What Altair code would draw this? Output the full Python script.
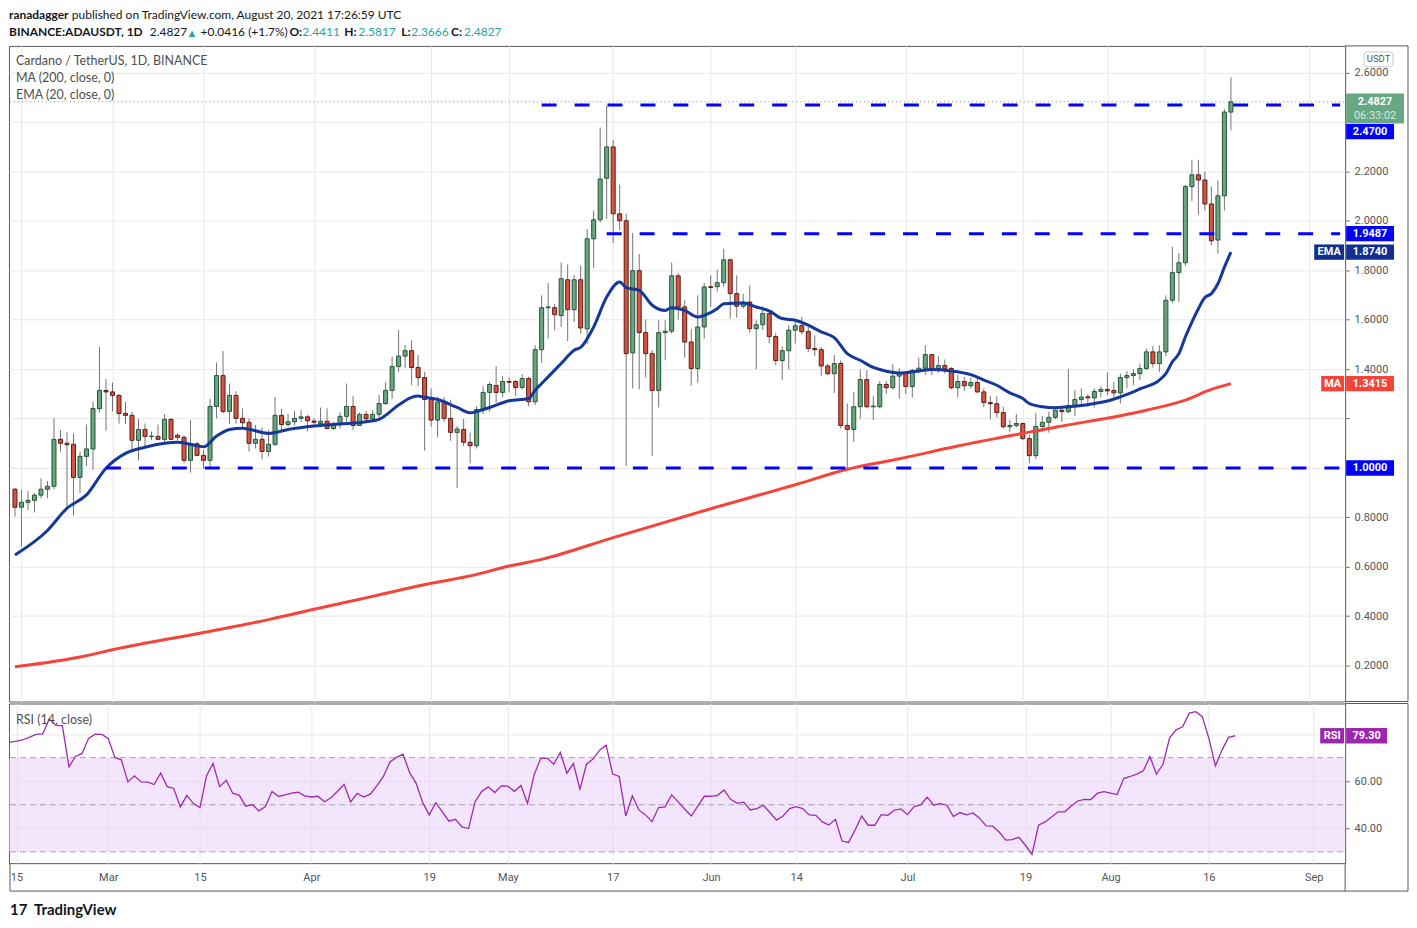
import json
import altair as alt
import pandas as pd

# ---------------- data ----------------
opens = [0.914,0.841,0.861,0.869,0.890,0.914,0.926,1.116,1.100,1.096,
         0.962,1.047,1.077,1.241,1.314,1.308,1.294,1.221,1.213,1.112,
         1.156,1.127,1.128,1.116,1.197,1.132,1.124,1.031,1.098,1.051,
         1.031,1.249,1.374,1.229,1.294,1.201,1.185,1.100,1.116,1.067,
         1.096,1.213,1.176,1.187,1.201,1.207,1.190,1.180,1.189,1.160,
         1.180,1.209,1.249,1.172,1.217,1.199,1.217,1.261,1.314,1.411,
         1.453,1.475,1.407,1.366,1.277,1.194,1.267,1.201,1.144,1.156,
         1.104,1.090,1.237,1.306,1.334,1.306,1.350,1.350,1.326,1.362,
         1.268,1.479,1.649,1.649,1.617,1.762,1.641,1.762,1.563,1.928,
         2.005,2.173,2.300,2.029,2.001,1.466,1.799,1.548,1.463,1.314,
         1.548,1.554,1.778,1.652,1.510,1.403,1.571,1.734,1.734,1.750,
         1.843,1.706,1.655,1.672,1.564,1.580,1.625,1.532,1.435,1.475,
         1.558,1.576,1.552,1.484,1.479,1.413,1.382,1.423,1.172,1.156,
         1.248,1.358,1.248,1.248,1.338,1.325,1.372,1.384,1.330,1.395,
         1.404,1.459,1.403,1.415,1.403,1.325,1.350,1.333,1.346,1.308,
         1.265,1.260,1.224,1.167,1.172,1.180,1.119,1.050,1.168,1.185,
         1.205,1.234,1.228,1.253,1.277,1.288,1.284,1.310,1.318,1.314,
         1.304,1.366,1.374,1.382,1.403,1.470,1.423,1.470,1.679,1.791,
         1.831,2.139,2.187,2.166,2.069,1.923,2.102,2.4411]
highs = [0.918,0.911,0.906,0.898,0.958,0.947,1.202,1.154,1.144,1.140,
         1.066,1.176,1.268,1.490,1.360,1.346,1.298,1.268,1.228,1.198,
         1.180,1.147,1.176,1.218,1.201,1.141,1.133,1.194,1.106,1.073,
         1.279,1.427,1.473,1.342,1.311,1.241,1.201,1.174,1.164,1.154,
         1.288,1.240,1.218,1.232,1.234,1.214,1.201,1.245,1.241,1.187,
         1.226,1.342,1.291,1.225,1.232,1.234,1.295,1.347,1.450,1.558,
         1.497,1.517,1.457,1.389,1.322,1.288,1.286,1.277,1.170,1.198,
         1.143,1.250,1.331,1.349,1.412,1.372,1.366,1.356,1.380,1.369,
         1.497,1.699,1.749,1.665,1.832,1.824,1.780,1.820,1.968,2.042,
         2.379,2.467,2.328,2.147,2.029,1.951,1.867,1.602,1.477,1.598,
         1.598,1.832,1.789,1.679,1.562,1.699,1.749,1.780,1.803,1.888,
         1.847,1.780,1.706,1.739,1.598,1.654,1.638,1.547,1.493,1.578,
         1.598,1.611,1.571,1.537,1.490,1.423,1.457,1.436,1.261,1.308,
         1.399,1.396,1.291,1.352,1.352,1.420,1.403,1.389,1.401,1.447,
         1.497,1.459,1.453,1.439,1.409,1.376,1.369,1.366,1.372,1.322,
         1.291,1.291,1.248,1.194,1.218,1.183,1.133,1.221,1.210,1.228,
         1.248,1.248,1.400,1.315,1.322,1.298,1.322,1.331,1.387,1.349,
         1.382,1.392,1.399,1.423,1.484,1.493,1.497,1.699,1.895,1.870,
         2.147,2.248,2.248,2.200,2.139,2.164,2.453,2.5817]
lows = [0.803,0.682,0.830,0.820,0.877,0.877,0.914,1.066,0.830,0.807,
        0.898,1.008,0.992,1.224,1.151,1.228,1.180,1.178,1.066,1.030,
        1.086,1.113,1.113,1.106,1.113,1.113,1.019,0.981,1.048,0.997,
        1.003,1.201,1.221,1.178,1.180,1.160,1.066,1.079,1.035,1.046,
        1.089,1.154,1.167,1.172,1.187,1.149,1.174,1.174,1.156,1.154,
        1.160,1.187,1.154,1.170,1.190,1.194,1.194,1.255,1.280,1.389,
        1.403,1.335,1.331,1.070,1.167,1.124,1.187,1.110,0.918,1.089,
        1.019,1.079,1.218,1.228,1.264,1.286,1.308,1.291,1.318,1.250,
        1.255,1.426,1.524,1.557,1.571,1.514,1.591,1.544,1.501,1.809,
        1.995,2.009,1.910,1.964,1.008,1.322,1.318,1.366,1.049,1.245,
        1.436,1.544,1.601,1.447,1.333,1.345,1.524,1.652,1.715,1.733,
        1.605,1.609,1.645,1.547,1.399,1.558,1.504,1.416,1.356,1.399,
        1.504,1.541,1.470,1.453,1.373,1.376,1.304,1.160,0.995,1.106,
        1.200,1.241,1.194,1.241,1.299,1.318,1.280,1.299,1.285,1.383,
        1.377,1.376,1.385,1.383,1.318,1.286,1.312,1.322,1.304,1.248,
        1.197,1.205,1.160,1.147,1.164,1.113,1.019,1.036,1.147,1.143,
        1.197,1.186,1.221,1.211,1.248,1.248,1.245,1.286,1.295,1.288,
        1.261,1.322,1.335,1.356,1.396,1.407,1.389,1.453,1.668,1.672,
        1.818,2.080,2.026,2.042,1.901,1.867,2.042,2.3666]
closes = [0.841,0.861,0.869,0.890,0.914,0.926,1.116,1.100,1.094,0.962,
          1.047,1.077,1.241,1.314,1.308,1.294,1.221,1.213,1.112,1.156,
          1.128,1.129,1.116,1.197,1.116,1.124,1.031,1.098,1.051,1.031,
          1.249,1.374,1.229,1.294,1.201,1.183,1.100,1.116,1.067,1.096,
          1.213,1.176,1.187,1.201,1.207,1.191,1.185,1.189,1.160,1.180,
          1.209,1.249,1.172,1.217,1.199,1.217,1.261,1.314,1.411,1.453,
          1.475,1.407,1.366,1.277,1.194,1.267,1.201,1.144,1.158,1.104,
          1.090,1.237,1.306,1.338,1.306,1.350,1.347,1.326,1.362,1.268,
          1.479,1.649,1.652,1.621,1.766,1.641,1.762,1.567,1.928,2.005,
          2.170,2.300,2.029,2.001,1.463,1.799,1.548,1.463,1.314,1.548,
          1.554,1.778,1.652,1.510,1.403,1.571,1.733,1.731,1.750,1.843,
          1.706,1.655,1.672,1.564,1.580,1.625,1.532,1.435,1.475,1.558,
          1.576,1.552,1.484,1.479,1.413,1.382,1.423,1.172,1.156,1.248,
          1.358,1.248,1.251,1.338,1.325,1.372,1.384,1.330,1.395,1.404,
          1.459,1.403,1.415,1.401,1.325,1.350,1.333,1.346,1.308,1.265,
          1.260,1.224,1.167,1.172,1.180,1.119,1.050,1.168,1.185,1.205,
          1.234,1.228,1.253,1.277,1.287,1.284,1.310,1.318,1.312,1.304,
          1.366,1.374,1.382,1.403,1.470,1.423,1.470,1.679,1.791,1.831,
          2.139,2.187,2.166,2.069,1.920,2.102,2.4411,2.4827]
rsi = [76.5,77.0,77.6,78.7,79.9,80.1,86.4,83.8,83.5,66.1,
       70.5,71.8,78.2,80.0,79.9,78.2,70.1,69.1,59.7,62.3,
       59.7,59.6,58.6,63.4,57.7,56.9,49.1,54.0,50.5,48.8,
       62.3,67.5,57.7,60.4,54.9,54.0,49.4,50.1,47.4,49.2,
       55.6,53.5,54.2,54.9,55.3,53.8,53.3,53.6,51.3,53.0,
       55.7,58.6,51.2,54.8,53.3,54.5,58.0,62.0,68.2,70.1,
       71.5,63.7,59.1,50.9,45.7,50.9,47.0,43.0,43.8,40.6,
       39.9,51.3,55.6,57.6,55.2,58.0,57.9,55.7,58.2,50.5,
       62.7,69.6,69.8,67.2,72.2,63.4,67.5,56.6,67.2,69.4,
       73.2,75.3,63.0,62.0,45.2,53.8,47.8,45.7,42.8,48.8,
       49.1,54.2,51.2,48.1,45.2,49.5,53.6,53.6,54.0,56.3,
       52.3,50.6,51.1,47.8,48.4,49.8,46.7,43.5,45.2,48.4,
       49.2,48.4,45.7,45.5,42.7,41.4,43.8,34.6,34.0,39.3,
       45.2,41.3,41.3,45.8,45.5,47.7,48.2,45.8,49.2,49.9,
       53.2,49.8,50.5,49.8,45.0,46.7,45.7,46.5,44.3,41.0,
       40.9,38.4,35.0,35.2,36.2,32.8,28.9,41.3,42.7,44.8,
       47.0,47.0,49.5,51.6,52.3,52.2,54.9,55.6,54.9,54.3,
       61.1,62.0,63.0,64.4,70.5,63.0,67.2,78.3,81.8,83.1,
       88.9,89.5,87.4,78.2,66.5,73.2,78.6,79.3]

ema_days = [0,5,8,11,14,17,20,23,25,27,29,31,33,35,39,42,46,50,54,56,
            59,61,62,63,65,68,70,72,73,76,79,80,81,82,84,86,87,89,91,93,
            94,96,98,100,101,103,105,106,108,109,112,114,116,118,120,122,124,126,128,130,
            132,134,136,139,141,144,147,149,151,153,155,156,158,160,162,164,166,168,170,172,
            173,176,177,178,179,180,181,182,183,184,185,186,187]
ema_vals = [0.648,0.747,0.837,0.891,0.999,1.059,1.084,1.100,1.104,1.096,1.086,1.129,1.156,1.161,1.140,1.156,1.170,1.178,1.187,1.197,
            1.255,1.286,1.291,1.286,1.277,1.245,1.224,1.237,1.245,1.272,1.281,1.315,1.342,1.369,1.423,1.477,1.488,1.571,1.692,1.753,
            1.730,1.719,1.659,1.638,1.649,1.638,1.611,1.618,1.645,1.665,1.668,1.652,1.636,1.605,1.598,1.578,1.551,1.528,1.463,1.436,
            1.407,1.392,1.385,1.393,1.399,1.393,1.378,1.356,1.335,1.304,1.281,1.261,1.248,1.244,1.248,1.253,1.261,1.271,1.288,1.308,
            1.320,1.356,1.382,1.430,1.463,1.531,1.591,1.645,1.690,1.706,1.746,1.813,1.874]
ma_days = [0,11,15,29,39,46,55,64,70,76,81,92,107,120,128,136,145,160,174,180,184,187]
ma_vals = [0.195,0.240,0.264,0.334,0.386,0.428,0.480,0.533,0.563,0.603,0.630,0.718,0.835,0.932,0.995,1.037,1.089,1.165,1.234,1.275,1.318,1.3415]

level_vals = [2.47, 1.9487, 1.0]
level_start = [81, 91, 14]

tick_days = [1, 15, 29, 46, 64, 76, 92, 107, 120, 137, 155, 168, 183, 199]
tick_labels = ["15", "Mar", "15", "Apr", "19", "May", "17", "Jun", "14", "Jul", "19", "Aug", "16", "Sep"]
price_ticks = [0.2, 0.4, 0.6, 0.8, 1.0, 1.2, 1.4, 1.6, 1.8, 2.0, 2.2, 2.4, 2.6]
rsi_ticks = [40, 60, 80]
rsi_levels = [30, 50, 70]

# ---------------- layout / style ----------------
W, HP, HR, HH = 1339, 657, 160, 35
EXT = 63
XD = [-0.15, 203.8]
PD = [0.0545, 2.709]
RD = [25.2, 93.0]
PPU = HP / (PD[1] - PD[0])
RPU = HR / (RD[1] - RD[0])

GREEN_FILL, GREEN_LINE = "#6aa682", "#225437"
RED_FILL, RED_LINE = "#d65442", "#5b1a13"
WICK = "#737375"
EMA_C = "#15389a"
MA_C = "#f5453a"
BLUE = "#0000ff"
NAVY = "#112f8f"
PURPLE = "#9b27af"
TEAL = "#26a69a"
FRAME = "#5a5a5a"
TXT = "#131722"
GREY = "#4f4f4f"

one = pd.DataFrame({"k": [0]})


def txt(x, y, s, color=TXT, size=12, weight="normal", font="Lato", align="left", baseline="top"):
    return alt.Chart(one).mark_text(text=s, align=align, baseline=baseline, color=color,
                                    fontSize=size, fontWeight=weight, font=font).encode(
        x=alt.value(x), y=alt.value(y))


def hline(y, x0, x1, color=FRAME):
    return alt.Chart(one).mark_rule(color=color, strokeWidth=1).encode(
        x=alt.value(x0), x2=alt.value(x1), y=alt.value(y))


def vline(x, y0, y1, color=FRAME):
    return alt.Chart(one).mark_rule(color=color, strokeWidth=1).encode(
        x=alt.value(x), y=alt.value(y0), y2=alt.value(y1))


def tag(value, ppu, x0, x1, fill, label, dy=0.0, up=7.7, down=7.7):
    c = value - dy / ppu
    rect = alt.Chart(one).mark_rect(color=fill).encode(
        x=alt.value(x0), x2=alt.value(x1),
        y=alt.datum(c + up / ppu), y2=alt.datum(c - down / ppu))
    t = alt.Chart(one).mark_text(text=label, align="center", baseline="middle", color="white",
                                 fontSize=11, fontWeight="bold", font="Roboto").encode(
        x=alt.value((x0 + x1) / 2), y=alt.datum(c))
    return [rect, t]


n = len(closes)
candles = pd.DataFrame({"d": list(range(n)), "open": opens, "high": highs, "low": lows, "close": closes})
candles["dir"] = ["up" if c >= o else "down" for o, c in zip(opens, closes)]
ema_df = pd.DataFrame({"d": ema_days, "v": ema_vals})
ma_df = pd.DataFrame({"d": ma_days, "v": ma_vals})
lvl_df = pd.DataFrame({"level": level_vals, "start": level_start, "end": [XD[1]] * len(level_vals)})
rsi_df = pd.DataFrame({"d": list(range(n)), "r": rsi})
rlev_df = pd.DataFrame({"lv": rsi_levels})
last_df = pd.DataFrame({"p": [closes[-1]]})

xs = alt.Scale(domain=XD, nice=False, zero=False)
ys = alt.Scale(domain=PD, nice=False, zero=False)
rs = alt.Scale(domain=RD, nice=False, zero=False)

price_label_expr = "indexof([1, 1.2, 2.4], datum.value) >= 0 ? '' : format(datum.value, '.4f')"
x_label_expr = f"{json.dumps(tick_labels)}[indexof({json.dumps(tick_days)}, datum.value)]"

# ---------------- header ----------------
L1, L2 = 0, 17.5
header = alt.layer(
    txt(0, L1, "ranadagger", weight="bold"),
    txt(63, L1, "published on TradingView.com, August 20, 2021 17:26:59 UTC"),
    txt(0, L2, "BINANCE:ADAUSDT, 1D", weight="bold"),
    txt(141, L2, "2.4827"),
    txt(178, L2 + 1, "▲", color=TEAL, size=11),
    txt(192, L2, "+0.0416 (+1.7%)"),
    txt(281, L2, "O:", weight="bold"), txt(294, L2, "2.4411", color=TEAL),
    txt(336, L2, "H:", weight="bold"), txt(350, L2, "2.5817", color=TEAL),
    txt(393, L2, "L:", weight="bold"), txt(403, L2, "2.3666", color=TEAL),
    txt(443, L2, "C:", weight="bold"), txt(456, L2, "2.4827", color=TEAL),
).properties(width=W, height=HH, view=alt.ViewBackground(stroke="transparent", strokeWidth=0))

# ---------------- price pane ----------------
wicks = alt.Chart(candles).mark_rule(color=WICK, strokeWidth=1, clip=True).encode(
    x=alt.X("d:Q", scale=xs, axis=alt.Axis(values=tick_days, labels=False, ticks=False,
                                            domain=False, grid=True, title=None)),
    y=alt.Y("low:Q", scale=ys, axis=alt.Axis(orient="right", values=price_ticks, labelExpr=price_label_expr,
                                              grid=True, tickSize=4, tickColor="#666", domain=False,
                                              title=None, labelPadding=5)),
    y2="high:Q")
bodies = alt.Chart(candles).mark_bar(width=4, strokeWidth=1, clip=True).encode(
    x=alt.X("d:Q", scale=xs),
    y=alt.Y("open:Q", scale=ys),
    y2="close:Q",
    color=alt.Color("dir:N", scale=alt.Scale(domain=["up", "down"], range=[GREEN_FILL, RED_FILL]), legend=None),
    stroke=alt.Stroke("dir:N", scale=alt.Scale(domain=["up", "down"], range=[GREEN_LINE, RED_LINE]), legend=None))
ema_line = alt.Chart(ema_df).mark_line(color=EMA_C, strokeWidth=3, interpolate="monotone", clip=True).encode(
    x=alt.X("d:Q", scale=xs), y=alt.Y("v:Q", scale=ys))
ma_line = alt.Chart(ma_df).mark_line(color=MA_C, strokeWidth=3, interpolate="monotone", clip=True).encode(
    x=alt.X("d:Q", scale=xs), y=alt.Y("v:Q", scale=ys))
levels = alt.Chart(lvl_df).mark_rule(color=BLUE, strokeWidth=3, strokeDash=[15, 18], clip=True).encode(
    x=alt.X("start:Q", scale=xs), x2="end:Q", y=alt.Y("level:Q", scale=ys))
last_line = alt.Chart(last_df).mark_rule(color="#6b9a7c", strokeWidth=1, strokeDash=[1, 3]).encode(
    y=alt.Y("p:Q", scale=ys), x=alt.value(1), x2=alt.value(W))

price_tags = []
price_tags += tag(closes[-1], PPU, 1340, 1398, "#68a784", f"{closes[-1]:.4f}", up=8.3, down=21.7)
price_tags.append(alt.Chart(one).mark_text(text="06:33:02", align="center", baseline="middle", dy=14,
                                           color="#d6eadd", fontSize=11, font="Roboto").encode(
    x=alt.value(1369), y=alt.datum(closes[-1])))
price_tags += tag(level_vals[0], PPU, 1340, 1388, BLUE, f"{level_vals[0]:.4f}", dy=26.8)
price_tags += tag(level_vals[1], PPU, 1340, 1388, BLUE, f"{level_vals[1]:.4f}")
price_tags += tag(level_vals[2], PPU, 1340, 1388, BLUE, f"{level_vals[2]:.4f}")
price_tags += tag(ema_vals[-1], PPU, 1308, 1338, NAVY, "EMA")
price_tags += tag(ema_vals[-1], PPU, 1340, 1388, NAVY, f"{ema_vals[-1]:.4f}")
price_tags += tag(ma_vals[-1], PPU, 1315, 1338, MA_C, "MA")
price_tags += tag(ma_vals[-1], PPU, 1340, 1388, MA_C, f"{ma_vals[-1]:.4f}")

usdt_box = alt.Chart(one).mark_rect(fill="white", stroke="#c8c8c8", strokeWidth=1, cornerRadius=3).encode(
    x=alt.value(1358), x2=alt.value(1387), y=alt.value(6), y2=alt.value(21))
usdt_txt = txt(1372.5, 13.5, "USDT", color="#555", size=9.5, font="Roboto", align="center", baseline="middle")

legend_txt = [
    txt(7, 15, "Cardano / TetherUS, 1D, BINANCE", color=GREY, size=12.5, baseline="middle"),
    txt(7, 32, "MA (200, close, 0)", color=GREY, size=12.5, baseline="middle"),
    txt(7, 49, "EMA (20, close, 0)", color=GREY, size=12.5, baseline="middle"),
]
price_frame = [hline(0, W, W + EXT), vline(W + EXT, 0, HP), hline(HP, W, W + EXT)]

price = alt.layer(
    wicks, bodies, ema_line, ma_line, levels, last_line,
    *legend_txt, *price_tags, usdt_box, usdt_txt, *price_frame
).properties(width=W, height=HP)

# ---------------- RSI pane ----------------
band = alt.Chart(one).mark_rect(color="#e8cdf9", opacity=0.5).encode(
    x=alt.value(0), x2=alt.value(W), y=alt.datum(70), y2=alt.datum(30))
rlev = alt.Chart(rlev_df).mark_rule(color="#aaa0ad", strokeWidth=1, strokeDash=[6, 4]).encode(
    y=alt.Y("lv:Q", scale=rs), x=alt.value(1), x2=alt.value(W))
rsi_line = alt.Chart(rsi_df).mark_line(color="#9c2bb0", strokeWidth=1.3, clip=True).encode(
    x=alt.X("d:Q", scale=xs, axis=alt.Axis(values=tick_days, labelExpr=x_label_expr, ticks=False,
                                            domain=False, grid=True, title=None, labelPadding=8)),
    y=alt.Y("r:Q", scale=rs, axis=alt.Axis(orient="right", values=rsi_ticks,
                                            labelExpr="datum.value == 80 ? '' : format(datum.value, '.2f')",
                                            grid=True, tickSize=4, tickColor="#666", domain=False,
                                            title=None, labelPadding=5)))
rsi_tags = []
rsi_tags += tag(rsi[-1], RPU, 1314, 1338, PURPLE, "RSI")
rsi_tags += tag(rsi[-1], RPU, 1340, 1381, PURPLE, f"{rsi[-1]:.2f}")
rsi_label = txt(7, 17, "RSI (14, close)", color=GREY, size=12.5, baseline="middle")
rsi_frame = [hline(0, W, W + EXT), vline(W + EXT, 0, 188), hline(188, 1, W + EXT),
             vline(1, HR, 188), vline(W, HR, 188)]
logo = [txt(1, 207, "17", weight="bold", size=15, baseline="middle"),
        txt(25, 207, "TradingView", weight="bold", size=15, baseline="middle")]

rsi_chart = alt.layer(
    band, rlev, rsi_line, rsi_label, *rsi_tags, *rsi_frame, *logo
).properties(width=W, height=HR)

chart = alt.vconcat(header, price, rsi_chart, spacing=0).properties(
    padding=0, background="white"
).configure_view(
    stroke=FRAME, strokeWidth=1
).configure_axis(
    labelFont="Roboto", labelFontSize=11, labelColor="#555", gridColor="#e8e8e8", gridWidth=1
)

chart.save("out.html", embed_options={"renderer": "svg", "actions": False})
